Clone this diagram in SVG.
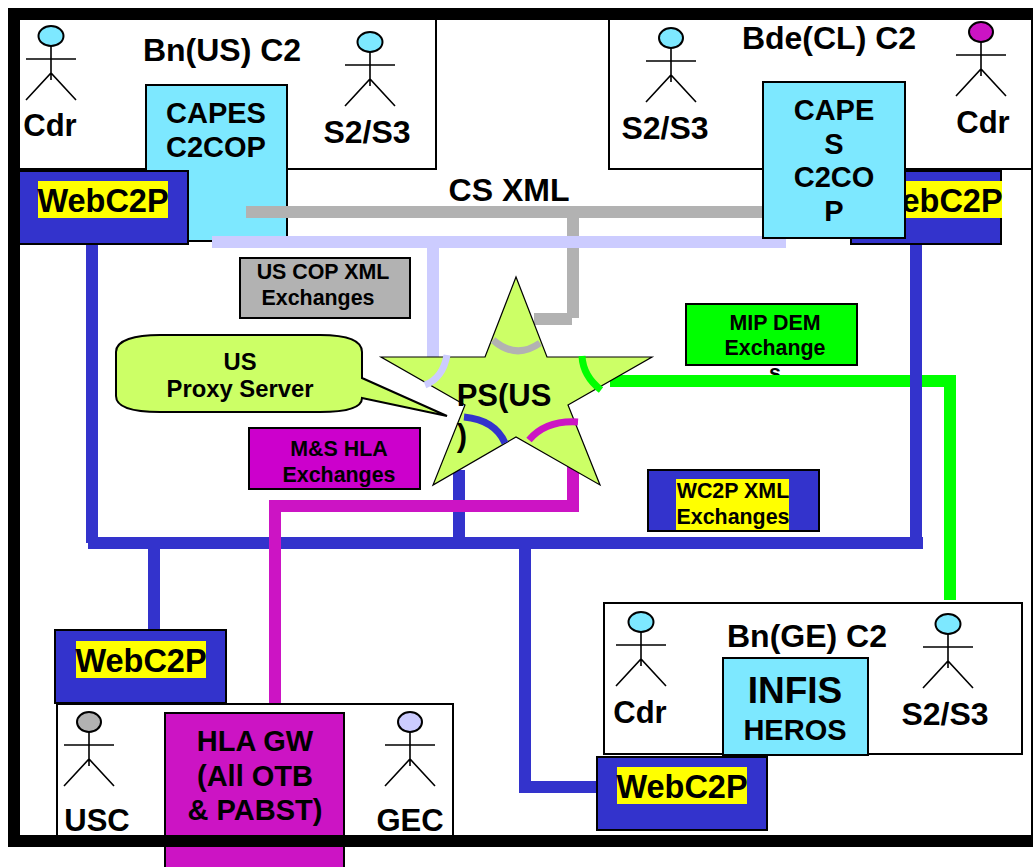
<svg xmlns="http://www.w3.org/2000/svg" width="1033" height="867" viewBox="0 0 1033 867">
<style>
text{font-family:"Liberation Sans",Arial,sans-serif;font-weight:700;fill:#000;text-anchor:middle}
.box{stroke:#000;stroke-width:2}
.cy{fill:#7de8ff}.bl{fill:#3333cc}.mg{fill:#cc14c4}
.w{fill:#fff}
.hl{fill:#ff0}
.stickman{fill:none;stroke:#000;stroke-width:1.6}
.actor ellipse{stroke:#000;stroke-width:2}
.c{fill:none;stroke-width:12}
.a{fill:none;stroke-width:7}
.t32{font-size:32px}.t29{font-size:29px}.t31{font-size:31px}.t325{font-size:32.5px}
.t24{font-size:23.8px}.t21{font-size:21.4px}
</style>
<defs>
<path id="stick" class="stickman" d="M0 12V46M-25 25H25M-25 66L0 39L25 66"/>
</defs>
<rect width="1033" height="867" fill="#fff"/>
<g id="bn-us-frame"><rect class="box w" x="19" y="19" width="417" height="150"/></g>
<g id="bde-cl-frame"><rect class="box w" x="609" y="19" width="423" height="150"/></g>
<g id="capes-us"><rect class="box cy" x="146" y="85" width="141" height="156"/><text class="t29" x="216" y="123">CAPES</text><text class="t29" x="216" y="157">C2COP</text></g>
<g id="webc2p-us"><rect class="box bl" x="19" y="171" width="169" height="73"/><rect class="hl" x="38" y="181" width="130" height="37"/><text class="t325" x="103" y="212">WebC2P</text></g>
<g id="webc2p-cl"><rect class="box bl" x="851" y="171" width="150" height="73"/><rect class="hl" x="872" y="181" width="130" height="37"/><text class="t325" x="937" y="212">WebC2P</text></g>
<g id="mip-dem"><rect class="box" fill="#00ff00" x="686" y="304" width="171" height="61"/><text class="t21" x="775" y="330">MIP DEM</text><text class="t21" x="775" y="355">Exchange</text><text class="t21" x="775" y="380">s</text></g>
<g id="connectors">
<path class="c" stroke="#b2b2b2" d="M246 212H770M573 212V318M572 319H534"/>
<path class="c" stroke="#ccccff" d="M212 242H786M433 242V357"/>
<path class="c" stroke="#00ff00" d="M610 381H950V600"/>
<path class="c" stroke="#3333cc" d="M92 245V543M916 245V543M88 543H923M154 543V630M459 470V543M525 543V787H596"/>
<path class="c" stroke="#cc14c4" d="M573 465V506H275V704"/>
</g>
<g id="capes-cl"><rect class="box cy" x="763" y="82" width="142" height="156"/><text class="t29" x="834" y="120">CAPE</text><text class="t29" x="834" y="154">S</text><text class="t29" x="834" y="187">C2CO</text><text class="t29" x="834" y="221">P</text></g>
<g id="us-cop"><rect class="box" fill="#b2b2b2" x="240" y="258" width="170" height="60"/><text class="t21" x="323" y="279">US COP XML</text><text class="t21" x="318" y="305">Exchanges</text></g>
<g id="ms-hla"><rect class="box" fill="#cc00cc" x="249" y="428" width="171" height="61"/><text class="t21" x="339" y="456">M&amp;S HLA</text><text class="t21" x="339" y="482">Exchanges</text></g>
<g id="wc2p-xml"><rect class="box bl" x="648" y="470" width="171" height="61"/><rect class="hl" x="676" y="479" width="113" height="51"/><text class="t21" x="733" y="498">WC2P XML</text><text class="t21" x="733" y="524">Exchanges</text></g>
<g id="ps-us">
<polygon points="485,357 516,277 547,357 652,357 568,405 600,485 516,437 433,485 465,405 381,357" fill="#ccff66" stroke="#000" stroke-width="1.2"/>
<path class="a" stroke="#b2b2b2" d="M493 340Q516 360 540 343"/>
<path class="a" stroke="#ccccff" d="M447 355Q443 378 425 385"/>
<path class="a" stroke="#00ff00" d="M582 356Q583 376 601 390"/>
<path class="a" stroke="#3333cc" d="M464 417Q495 420 505 443"/>
<path class="a" stroke="#cc14c4" d="M529 440Q546 420 578 422"/>
<text class="t31" x="504" y="406">PS(US</text><text class="t31" x="462" y="446">)</text>
</g>
<g id="callout">
<path d="M116 352C116 340 135 335 160 335H320C345 335 362 340 362 352V378L447 416L362 398C362 408 345 412 320 412H160C135 412 116 408 116 396Z" fill="#ccff66" stroke="#000" stroke-width="2"/>
<text class="t24" x="240" y="370">US</text><text class="t24" x="240" y="397">Proxy Server</text>
</g>
<text class="t32" x="509" y="201">CS XML</text>
<g id="bn-us-labels"><text class="t32" x="222" y="61">Bn(US) C2</text></g>
<g id="bde-cl-labels"><text class="t32" x="829" y="49">Bde(CL) C2</text></g>
<g id="actor-cdr-us" class="actor"><ellipse class="cy" cx="51" cy="36" rx="12.5" ry="10"/><use href="#stick" x="51" y="34"/><text class="t31" x="50" y="136">Cdr</text></g>
<g id="actor-s2-us" class="actor"><ellipse class="cy" cx="370" cy="42" rx="12.5" ry="10"/><use href="#stick" x="370" y="40"/><text class="t32" x="367" y="143">S2/S3</text></g>
<g id="actor-s2-cl" class="actor"><ellipse class="cy" cx="671" cy="38" rx="12" ry="10"/><use href="#stick" x="671" y="36"/><text class="t32" x="665" y="139">S2/S3</text></g>
<g id="actor-cdr-cl" class="actor"><ellipse class="mg" cx="981" cy="32" rx="12" ry="10"/><use href="#stick" x="981" y="30"/><text class="t31" x="983" y="133">Cdr</text></g>
<g id="bn-ge"><rect class="box w" x="604" y="603" width="418" height="151"/><text class="t32" x="807" y="647">Bn(GE) C2</text></g>
<g id="infis"><rect class="box cy" x="723" y="658" width="145" height="97"/><text font-size="37" x="795" y="703">INFIS</text><text class="t29" x="795" y="740">HEROS</text></g>
<g id="actor-cdr-ge" class="actor"><ellipse class="cy" cx="641" cy="622" rx="12.5" ry="10"/><use href="#stick" x="641" y="620"/><text class="t31" x="640" y="723">Cdr</text></g>
<g id="actor-s2-ge" class="actor"><ellipse class="cy" cx="948" cy="624" rx="12.5" ry="10"/><use href="#stick" x="948" y="622"/><text class="t32" x="945" y="725">S2/S3</text></g>
<g id="webc2p-ge"><rect class="box bl" x="597" y="757" width="170" height="73"/><rect class="hl" x="617" y="767" width="130" height="37"/><text class="t325" x="682" y="798">WebC2P</text></g>
<g id="bottom-frame"><rect class="box w" x="57" y="704" width="396" height="140"/></g>
<g id="hla-gw"><rect class="box mg" x="165" y="713" width="179" height="160"/><text class="t29" x="255" y="751">HLA GW</text><text class="t29" x="255" y="786">(All OTB</text><text class="t29" x="255" y="820">&amp; PABST)</text></g>
<g id="actor-usc" class="actor"><ellipse fill="#b2b2b2" cx="89" cy="722" rx="12" ry="10"/><use href="#stick" x="89" y="720"/><text class="t31" x="97" y="831">USC</text></g>
<g id="actor-gec" class="actor"><ellipse fill="#ccccff" cx="410" cy="722" rx="12" ry="10"/><use href="#stick" x="410" y="720"/><text class="t31" x="410" y="831">GEC</text></g>
<g id="webc2p-bottom"><rect class="box bl" x="55" y="630" width="171" height="73"/><rect class="hl" x="76" y="641" width="130" height="37"/><text class="t325" x="141" y="672">WebC2P</text></g>
<path id="right-edge" d="M1032 19V836" fill="none" stroke="#000" stroke-width="2"/>
<path id="frame" d="M1033 14H14V841H1033" fill="none" stroke="#000" stroke-width="12"/>
</svg>
